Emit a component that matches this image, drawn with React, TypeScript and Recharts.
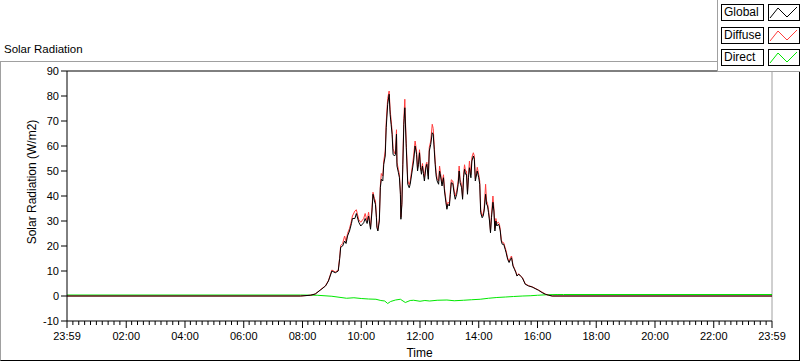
import React from 'react';
import { LineChart, Line, XAxis, YAxis, ReferenceLine, Legend, Label } from 'recharts';

// minutes of the day (23:59 of previous day = -1)
const minutes = [
  -1, 476, 496, 506, 516, 527, 533, 540, 547, 553,
  556, 558, 562, 566, 569, 572, 576, 580, 582, 587,
  590, 595, 599, 605, 608, 612, 615, 619, 622, 624,
  627, 629, 631, 632, 634, 637, 639, 641, 644, 646,
  649, 651, 654, 657, 659, 661, 663, 665, 668, 670,
  672, 673, 676, 678, 680, 681, 683, 685, 687, 689,
  690, 692, 695, 698, 700, 704, 707, 710, 713, 715,
  717, 719, 721, 723, 725, 727, 729, 732, 734, 737,
  739, 742, 745, 747, 749, 751, 753, 755, 758, 760,
  762, 765, 768, 770, 773, 775, 777, 780, 782, 784,
  787, 790, 792, 795, 798, 800, 802, 805, 807, 809,
  811, 813, 815, 817, 819, 821, 824, 826, 829, 831,
  833, 835, 837, 840, 842, 844, 847, 849, 851, 854,
  856, 858, 860, 862, 864, 866, 869, 871, 873, 875,
  877, 880, 882, 884, 886, 888, 891, 894, 896, 899,
  902, 905, 907, 910, 913, 916, 918, 922, 925, 929,
  932, 935, 942, 949, 955, 962, 969, 976, 983, 990,
  1439,
];

const globalW = [
  0, 0, 0.3, 0.8, 2.3, 4, 6, 10, 9.3, 10,
  15, 19.5, 20, 22, 21, 24, 26, 29, 31, 31,
  33, 29.5, 28, 29.3, 31, 29, 32, 26.7, 34, 40.7,
  38, 36.7, 31.3, 27.4, 26, 30, 43.3, 46.7, 46, 52.7,
  56, 67.3, 76.7, 80.7, 72.7, 68.7, 64.7, 56.7, 56, 56.7,
  64.7, 52, 49.3, 47.3, 40.7, 30.7, 36.7, 52.7, 68.7, 75.3,
  70, 59.3, 44.7, 43.3, 44.7, 50, 54, 60, 56.7, 50,
  52.7, 57.3, 51.3, 48.7, 52, 49, 46, 51.3, 52.7, 46.7,
  58, 60.7, 65.3, 64.7, 58.7, 52.7, 48, 46, 44.7, 50,
  48, 44, 47.3, 42, 37.3, 34.7, 36.7, 36, 40.7, 45.3,
  45, 40.7, 38.7, 40.7, 44.7, 50, 45.3, 43.3, 38.7, 47.3,
  50.7, 48.7, 48.7, 40.7, 47.3, 51.3, 47.3, 54, 56, 54.7,
  46, 48, 50, 47.3, 44.7, 33.3, 31.3, 32, 34, 40.7,
  36.7, 36, 33.3, 30, 25.3, 31.3, 37.5, 34, 26, 30,
  28, 28.7, 28, 26, 22, 20.7, 20.7, 18.7, 17.3, 14.7,
  13.4, 14.7, 15.3, 12, 10.7, 9.3, 8, 8.7, 8, 7.3,
  6, 4.7, 4, 3.6, 3, 2.3, 1.4, 0.7, 0.3, 0,
  0,
];

const diffuseW = [
  0, 0, 0.3, 0.8, 2.4, 4.1, 6.2, 10.4, 9.6, 10.3,
  15.5, 20.2, 21, 24, 21.8, 25, 27, 30, 32, 34,
  34.5, 30.5, 29.5, 31, 33, 30, 33.5, 27.5, 35.5, 41.5,
  39, 38, 32, 28, 26.5, 31, 44, 49, 48, 54,
  58, 69.5, 79, 82, 74.5, 70.5, 66, 59, 57, 58,
  66.5, 53.5, 50.5, 48.5, 42, 31.5, 37.5, 54, 71, 78.7,
  72, 61, 46, 44.5, 46, 51.5, 56, 62, 58, 51,
  54, 58.5, 52.5, 50, 53, 50, 47.5, 52.5, 53.5, 48,
  59.5, 62, 68.7, 67, 60.5, 54, 49.5, 47, 46, 52,
  49, 45, 48.5, 43, 38.5, 35.5, 37.5, 37, 42, 46.5,
  46, 42, 40, 42, 46, 52, 46.5, 44.5, 39.5, 48.5,
  52.5, 50, 50, 41.5, 48.5, 54, 48.5, 55.5, 57.3, 56,
  47, 49, 51.5, 48.5, 46, 34.5, 32, 33, 35, 44.7,
  38, 37, 34.5, 31, 26, 32.5, 40, 35, 27, 31,
  29, 29.5, 29, 26.5, 22.5, 21.5, 21.3, 19.3, 18, 15.2,
  13.8, 15.5, 16, 12.3, 11, 9.6, 8.2, 8.9, 8.1, 7.4,
  6.2, 4.9, 4.1, 3.7, 3.1, 2.4, 1.6, 0.8, 0.3, 0,
  0,
];

const directMinutes = [
  -1, 476, 510, 540, 570, 585, 600, 615, 630, 640,
  648, 654, 660, 670, 680, 690, 700, 707, 720, 730,
  740, 755, 775, 790, 809, 825, 843, 860, 877, 895,
  911, 930, 945, 960, 979, 1000, 1013, 1439,
];
const directW = [
  0.4, 0.4, 0.3, -0.1, -0.9, -0.7, -1, -1.2, -1.3, -1.8,
  -2, -3, -2.2, -1.6, -1.3, -2.6, -1.8, -1.7, -2.1, -1.8,
  -2, -1.7, -1.6, -1.9, -1.7, -1.5, -1.3, -0.9, -0.6, -0.4,
  -0.2, 0, 0.1, 0.3, 0.5, 0.6, 0.6, 0.6,
];

const yTicks = [-10, 0, 10, 20, 30, 40, 50, 60, 70, 80, 90];
const majorTickMinutes = [-1, 120, 240, 360, 480, 600, 720, 840, 960, 1080, 1200, 1320, 1439];
const majorTickLabels = ['23:59', '02:00', '04:00', '06:00', '08:00', '10:00', '12:00', '14:00', '16:00', '18:00', '20:00', '22:00', '23:59'];

const seriesNames = ['Global', 'Diffuse', 'Direct'];
const seriesColors = ['#000000', '#ff3c3c', '#00e800'];

const FONT = '"Liberation Sans", Arial, sans-serif';

const mainData = minutes.map((m, i) => ({ m, g: globalW[i], d: diffuseW[i] }));
const directData = directMinutes.map((m, i) => ({ m, v: directW[i] }));

const allTicks: number[] = [];
for (let k = 0; k <= 120; k++) {
  if (k % 10 === 0) allTicks.push(majorTickMinutes[k / 10]);
  else allTicks.push(-1 + 12 * k);
}

const XTick = (props: any) => {
  const { x, y, payload } = props;
  const idx = majorTickMinutes.indexOf(payload.value);
  const major = idx >= 0;
  return (
    <g>
      <line x1={x} y1={y} x2={x} y2={y + (major ? 7 : 4)} stroke="#000" strokeWidth={1} />
      {major && (
        <text x={x} y={y + 19} textAnchor="middle" fontSize={11} fill="#000" fontFamily={FONT}>
          {majorTickLabels[idx]}
        </text>
      )}
    </g>
  );
};

const LegendBox = () => (
  <div
    style={{
      position: 'relative',
      width: 83,
      height: 72,
      boxSizing: 'border-box',
      background: '#fff',
      borderLeft: '1px solid #a0a0a0',
      borderBottom: '1px solid #a0a0a0',
      fontFamily: FONT,
    }}
  >
    {seriesNames.map((name, i) => {
      const top = [4, 27, 49][i];
      return (
        <React.Fragment key={name}>
          <div
            style={{
              position: 'absolute',
              left: 3,
              top,
              width: 43,
              height: 17,
              boxSizing: 'border-box',
              border: '1px solid #000',
              fontSize: 12,
              lineHeight: '15px',
              paddingLeft: 2,
              color: '#000',
              whiteSpace: 'nowrap',
            }}
          >
            {name}
          </div>
          <div
            style={{
              position: 'absolute',
              left: 50,
              top,
              width: 32,
              height: 17,
              boxSizing: 'border-box',
              border: '1px solid #000',
            }}
          >
            <svg width={30} height={15} style={{ display: 'block' }}>
              <polyline points="1,13 9,3 18,12 28,2" fill="none" stroke={seriesColors[i]} strokeWidth={1} />
            </svg>
          </div>
        </React.Fragment>
      );
    })}
  </div>
);

export default function App() {
  return (
    <div style={{ position: 'fixed', left: 0, top: 0, width: 800, height: 361, background: '#fff', overflow: 'hidden' }}>
      <div
        style={{
          position: 'absolute',
          left: 0,
          top: 61,
          width: 800,
          height: 300,
          boxSizing: 'border-box',
          borderTop: '1px solid #a0a0a0',
          borderLeft: '1px solid #a0a0a0',
          borderRight: '1px solid #000',
          borderBottom: '1px solid #000',
        }}
      />
      <div
        style={{
          position: 'absolute',
          left: 4,
          top: 43,
          fontFamily: FONT,
          fontSize: 11.5,
          color: '#000',
          whiteSpace: 'nowrap',
        }}
      >
        Solar Radiation
      </div>
      <div style={{ position: 'absolute', left: 0, top: 0 }}>
        <LineChart width={800} height={361} margin={{ top: 71, right: 28, bottom: 10, left: 10 }}>
          <XAxis
            dataKey="m"
            type="number"
            domain={[-1, 1439]}
            ticks={allTicks}
            interval={0}
            tickLine={false}
            tickSize={0}
            tickMargin={0}
            tick={<XTick />}
            axisLine={{ stroke: '#000' }}
            height={30}
            allowDataOverflow
          >
            <Label
              content={(p: any) => {
                const vb = p.viewBox;
                return (
                  <text x={vb.x + vb.width / 2} y={357} textAnchor="middle" fontSize={12} fill="#000" fontFamily={FONT}>
                    Time
                  </text>
                );
              }}
            />
          </XAxis>
          <YAxis
            type="number"
            domain={[-10, 90]}
            ticks={yTicks}
            interval={0}
            width={57}
            tickSize={6}
            tickMargin={2}
            tickLine={{ stroke: '#000' }}
            axisLine={{ stroke: '#000' }}
            tick={{ fontSize: 11, fill: '#000', fontFamily: FONT }}
            allowDataOverflow
          >
            <Label
              content={(p: any) => {
                const vb = p.viewBox;
                const cx = 32;
                const cy = vb.y + vb.height / 2 - 14;
                return (
                  <text
                    x={cx}
                    y={cy}
                    transform={`rotate(-90 ${cx} ${cy})`}
                    textAnchor="middle"
                    dominantBaseline="central"
                    fontSize={12}
                    fill="#000"
                    fontFamily={FONT}
                  >
                    Solar Radiation (W/m2)
                  </text>
                );
              }}
            />
          </YAxis>
          <ReferenceLine y={90} stroke="#000" strokeWidth={1} />
          <ReferenceLine x={1439} stroke="#a0a0a0" strokeWidth={1} />
          <Line data={directData} dataKey="v" name="Direct" stroke={seriesColors[2]} strokeWidth={1} dot={false} isAnimationActive={false} type="linear" />
          <Line data={mainData} dataKey="d" name="Diffuse" stroke={seriesColors[1]} strokeWidth={1} dot={false} isAnimationActive={false} type="linear" />
          <Line data={mainData} dataKey="g" name="Global" stroke={seriesColors[0]} strokeWidth={1} dot={false} isAnimationActive={false} type="linear" />
          <Legend
            layout="horizontal"
            verticalAlign="middle"
            align="center"
            content={<LegendBox />}
            wrapperStyle={{ position: 'absolute', left: 717, top: 0, width: 83, height: 72, margin: 0, padding: 0 }}
          />
        </LineChart>
      </div>
    </div>
  );
}
